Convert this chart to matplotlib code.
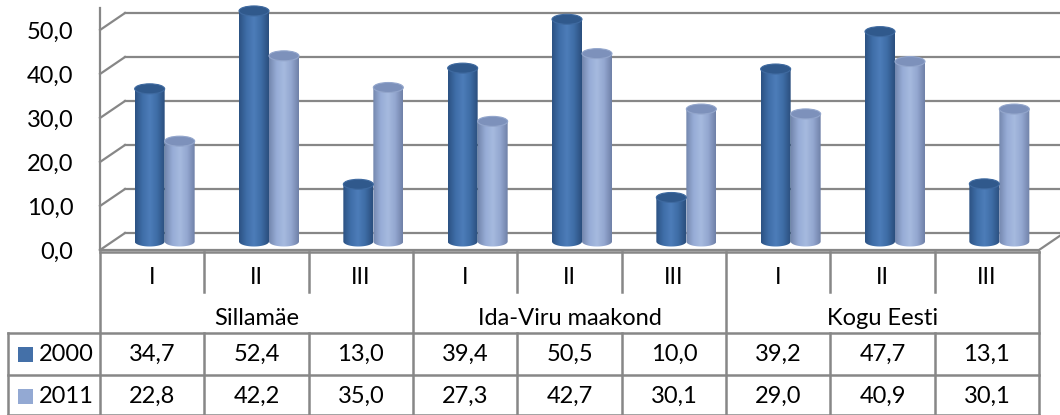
import numpy as np
import matplotlib
matplotlib.use("Agg")
import matplotlib.pyplot as plt
from matplotlib.path import Path
from matplotlib.patches import PathPatch, Ellipse, Rectangle
from matplotlib.colors import LinearSegmentedColormap

# data
groups = ["Sillamäe", "Ida-Viru maakond", "Kogu Eesti"]
levels = ["I", "II", "III"]
series_names = ["2000", "2011"]
values_2000 = [34.7, 52.4, 13.0, 39.4, 50.5, 10.0, 39.2, 47.7, 13.1]
values_2011 = [22.8, 42.2, 35.0, 27.3, 42.7, 30.1, 29.0, 40.9, 30.1]
y_ticks = [0, 10, 20, 30, 40, 50]

plt.rcParams['font.family'] = ['Lato', 'DejaVu Sans']
FS = 17
GRID = "#878787"

W, H = 1060, 415


def px_rect(l, t, r, b):
    return [l / W, 1 - b / H, (r - l) / W, (b - t) / H]


fig = plt.figure(figsize=(10.6, 4.15), dpi=100)

# ---- chart area (front plane) ----
ax = fig.add_axes(px_rect(100, 8, 1039, 250))
n = len(values_2000)
ax.set_xlim(0, n)
ax.set_ylim(0, 55)
ax.patch.set_visible(False)
for s in ax.spines.values():
    s.set_visible(False)
ax.set_xticks([])
ax.set_yticks(y_ticks)
ax.set_yticklabels([f"{v:.1f}".replace(".", ",") for v in y_ticks], fontsize=FS)
ax.tick_params(axis="y", length=0, pad=19)

xpx = 939 / n
ypx = 242 / 55
DX = 25 / xpx
DY = 17 / ypx
MX, MY = DX / 2, DY / 2

# back wall gridlines + side wall diagonals
for v in y_ticks:
    ax.plot([DX, n + DX + 0.3], [v + DY, v + DY], color=GRID, lw=1.6, clip_on=False, zorder=1)
    ax.plot([0, DX], [v, v + DY], color=GRID, lw=1.6, clip_on=False, zorder=1)
ax.plot([n, n + DX], [0, DY], color=GRID, lw=1.6, clip_on=False, zorder=1)
ax.plot([0, 0], [0, 55], color=GRID, lw=1.6, clip_on=False, zorder=1)
ax.plot([0, n], [0, 0], color=GRID, lw=1.6, clip_on=False, zorder=1)

dark_cmap = LinearSegmentedColormap.from_list(
    "d", [(0, "#2c5283"), (0.25, "#3f6ea8"), (0.5, "#4d7db9"), (0.75, "#3e6ca5"), (1, "#2b4f7e")])
light_cmap = LinearSegmentedColormap.from_list(
    "l", [(0, "#7487ae"), (0.25, "#97acd6"), (0.5, "#a6badf"), (0.75, "#93a7d0"), (1, "#7081a8")])
grad = np.linspace(0, 1, 64).reshape(1, -1)

bw = 30 / xpx
eh = 10 / ypx


def cylinder(xc, val, cmap, top_color, top_edge):
    x0, x1 = xc - bw / 2, xc + bw / 2
    yb = MY
    yt = val + MY
    t = np.linspace(np.pi, 2 * np.pi, 40)
    arc = np.column_stack([xc + bw / 2 * np.cos(t), yb + eh / 2 * np.sin(t)])
    verts = [(x0, yt)] + [tuple(p) for p in arc] + [(x1, yt), (x0, yt)]
    path = Path(verts, closed=True)
    patch = PathPatch(path, transform=ax.transData, facecolor="none", edgecolor="none")
    ax.add_patch(patch)
    im = ax.imshow(grad, cmap=cmap, extent=[x0, x1, yb - eh, yt], aspect="auto",
                   interpolation="bilinear", zorder=3)
    im.set_clip_path(patch)
    ax.add_patch(Ellipse((xc, yt), bw, eh, facecolor=top_color, edgecolor=top_edge,
                         lw=0.8, zorder=4, clip_on=False))


for i in range(n):
    cx = i + 0.5 + MX
    cylinder(cx - bw / 2, values_2000[i], dark_cmap, "#30598c", "#3f6aa0")
    cylinder(cx + bw / 2, values_2011[i], light_cmap, "#7d91bb", "#93a6cc")

ax.set_xlim(0, n)
ax.set_ylim(0, 55)

# ---- data table ----
tab = fig.add_axes(px_rect(100, 250, 1039, 415))
tab.set_xlim(0, n)
tab.set_ylim(415, 250)
tab.axis("off")
LW = 1.8
lab_l = -92 / xpx
kw = dict(color=GRID, lw=LW, clip_on=False)
# horizontal lines
tab.plot([0, n], [252, 252], **kw)
tab.plot([lab_l, n], [333, 333], **kw)
tab.plot([lab_l, n], [375, 375], **kw)
tab.plot([lab_l, n], [415, 415], **kw)
# vertical lines
for k in range(n + 1):
    if k % 3 == 0:
        tab.plot([k, k], [252, 415], **kw)
    else:
        tab.plot([k, k], [252, 292], **kw)
        tab.plot([k, k], [333, 415], **kw)
tab.plot([lab_l, lab_l], [333, 415], **kw)

for i in range(n):
    tab.text(i + 0.5, 277, levels[i % 3], ha="center", va="center", fontsize=FS)
    tab.text(i + 0.5, 354, f"{values_2000[i]:.1f}".replace(".", ","), ha="center", va="center", fontsize=FS)
    tab.text(i + 0.5, 396, f"{values_2011[i]:.1f}".replace(".", ","), ha="center", va="center", fontsize=FS)
for g, name in enumerate(groups):
    tab.text(g * 3 + 1.5, 318, name, ha="center", va="center", fontsize=FS)

sq = 15 / xpx
for name, yc, col in [(series_names[0], 354, "#4470a8"), (series_names[1], 396, "#93a9d3")]:
    tab.add_patch(Rectangle((-82 / xpx, yc - 7.5), sq, 15, facecolor=col, edgecolor="none", clip_on=False))
    tab.text(-61 / xpx, yc, name, ha="left", va="center", fontsize=FS)

fig.savefig("out.png", dpi=100)
